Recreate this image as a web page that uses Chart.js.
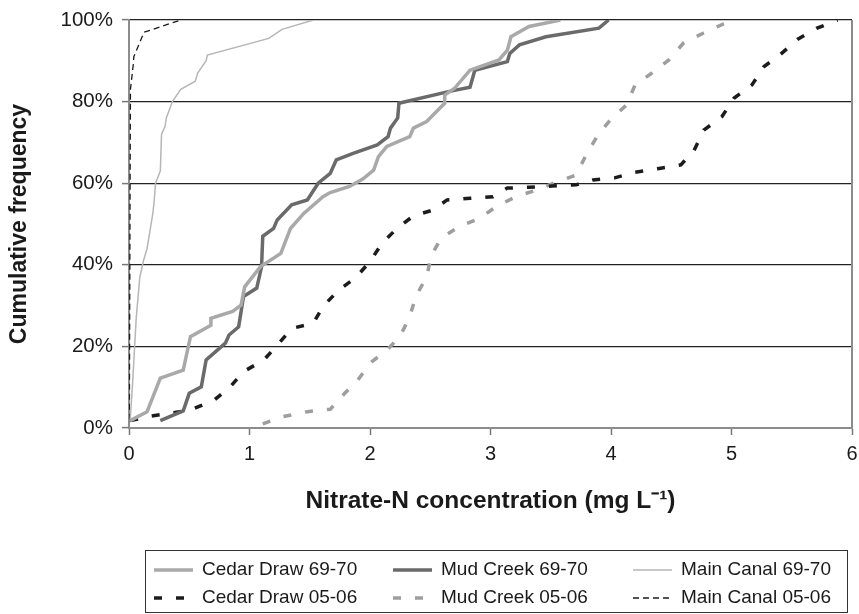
<!DOCTYPE html>
<html>
<head>
<meta charset="utf-8">
<script src="https://cdn.jsdelivr.net/npm/chart.js@4.4.1/dist/chart.umd.min.js"></script>
<style>
  html, body { margin: 0; padding: 0; background: #fff; }
  #wrap { width: 859px; height: 614px; }
</style>
</head>
<body>
<div id="wrap"><canvas id="grafico"></canvas></div>
<script>
// [nitrate mg/L, cumulative %]
const cedarDraw6970 = [[0.01,1.8],[0.15,4],[0.26,12.2],[0.45,14.2],[0.51,22.4],[0.68,25.2],[0.68,26.9],[0.86,28.6],[0.93,30.1],[0.96,34.6],[1.09,39.5],[1.26,42.8],[1.34,48.9],[1.45,52.6],[1.61,56.7],[1.67,57.7],[1.83,59.2],[1.94,61],[2.03,63.2],[2.07,66.5],[2.14,69],[2.33,71.4],[2.36,73.5],[2.47,75.1],[2.62,79.6],[2.62,81.6],[2.70,83.2],[2.83,87.7],[3.07,90.2],[3.14,92.6],[3.17,95.9],[3.32,98.4],[3.58,100]];
const mudCreek6970 = [[0.26,1.8],[0.45,4.2],[0.50,8.5],[0.60,10.1],[0.64,16.7],[0.80,20.8],[0.83,22.8],[0.91,24.8],[0.95,32.2],[1.06,34.3],[1.10,39.5],[1.11,47],[1.20,48.9],[1.23,51],[1.35,54.7],[1.48,55.9],[1.57,60],[1.67,62.4],[1.72,65.7],[1.86,67.3],[2.06,69.4],[2.15,71.4],[2.17,73.5],[2.23,76],[2.24,79.6],[2.66,82.5],[2.83,83.5],[2.87,87.7],[3.14,89.8],[3.16,91.8],[3.24,93.9],[3.46,95.9],[3.90,98],[3.98,100]];
const mainCanal6970 = [[0.01,2],[0.03,11],[0.06,27],[0.09,37],[0.12,41],[0.15,44],[0.20,53],[0.21,56],[0.22,60],[0.26,63],[0.27,72],[0.30,74],[0.31,76],[0.36,80],[0.43,83],[0.55,85],[0.57,87],[0.64,90],[0.65,91.4],[1.16,95.5],[1.27,97.7],[1.53,100]];
const cedarDraw0506 = [[0.01,1.8],[0.18,2.9],[0.51,4.4],[0.71,6.9],[0.84,10.1],[0.95,13.8],[1.12,16.7],[1.23,20.3],[1.35,24.4],[1.53,25.7],[1.61,29.8],[1.74,33.8],[1.88,36.8],[2.0,40.8],[2.10,45.3],[2.22,48.8],[2.36,52],[2.52,53.4],[2.64,55.9],[2.83,56.3],[3.02,56.7],[3.14,58.8],[3.32,59.0],[3.51,59.3],[3.71,59.6],[3.85,60.8],[4.03,61.3],[4.20,62.7],[4.40,63.6],[4.58,64.5],[4.69,68.1],[4.77,73],[4.92,76.3],[5.02,80.8],[5.17,84.1],[5.27,88.6],[5.40,91.4],[5.55,95.3],[5.71,98],[5.88,100]];
const mudCreek0506 = [[1.11,1],[1.28,2.8],[1.48,4],[1.67,4.6],[1.79,8.5],[1.90,11.8],[2.0,15.9],[2.14,19.1],[2.25,22.5],[2.33,27.3],[2.38,32.2],[2.47,37.1],[2.51,42.4],[2.59,46.5],[2.74,49.4],[2.91,51.4],[3.05,54.3],[3.21,56.7],[3.38,58.3],[3.56,60.4],[3.71,62],[3.80,67.3],[3.90,72.2],[4.0,75.7],[4.13,79.2],[4.20,84.1],[4.34,87],[4.48,90.2],[4.60,94.3],[4.76,96.7],[4.93,99],[5.02,100]];
const mainCanal0506 = [[0.003,2],[0.008,50],[0.012,83],[0.035,89],[0.04,91],[0.125,97],[0.43,100]];

const nomes = ['Cedar Draw 69-70', 'Mud Creek 69-70', 'Main Canal 69-70', 'Cedar Draw 05-06', 'Mud Creek 05-06', 'Main Canal 05-06'];
const yTicks = [0, 20, 40, 60, 80, 100];
const xTicks = [0, 1, 2, 3, 4, 5, 6];

const FONTE = "'Liberation Sans', Arial, sans-serif";

function serie(label, pts, cor, largura, dash) {
  return {
    label,
    data: pts.map(p => ({ x: p[0], y: p[1] })),
    borderColor: cor,
    borderWidth: largura,
    borderDash: dash,
    pointRadius: 0,
    tension: 0,
    fill: false
  };
}

const datasets = [
  serie(nomes[0], cedarDraw6970, '#a9a9a9', 3.5, []),
  serie(nomes[1], mudCreek6970, '#6a6a6a', 3.5, []),
  serie(nomes[2], mainCanal6970, '#b6b6b6', 1.5, []),
  serie(nomes[3], cedarDraw0506, '#1c1c1c', 3.5, [8, 14]),
  serie(nomes[4], mudCreek0506, '#9e9e9e', 3.5, [8, 14]),
  serie(nomes[5], mainCanal0506, '#1a1a1a', 1.3, [6, 4])
];

// legenda com caixa, 3 colunas x 2 linhas
const legendaCaixa = {
  id: 'legendaCaixa',
  afterDraw(chart) {
    const ctx = chart.ctx;
    const area = chart.chartArea;
    ctx.save();
    // borda direita do grafico
    ctx.strokeStyle = '#8c8c8c';
    ctx.lineWidth = 2;
    ctx.beginPath();
    ctx.moveTo(area.right, area.top);
    ctx.lineTo(area.right, area.bottom);
    ctx.stroke();

    ctx.strokeStyle = '#333';
    ctx.lineWidth = 1;
    ctx.strokeRect(145.5, 550.5, 702, 62);

    const colX = [154, 393, 633];
    const linY = [570, 598];
    ctx.font = '19px ' + FONTE;
    ctx.textBaseline = 'middle';
    ctx.fillStyle = '#1a1a1a';
    chart.data.datasets.forEach((d, i) => {
      const x = colX[i % 3];
      const y = linY[Math.floor(i / 3)];
      ctx.strokeStyle = d.borderColor;
      ctx.lineWidth = d.borderWidth;
      ctx.setLineDash(d.borderDash);
      ctx.beginPath();
      ctx.moveTo(x, y);
      ctx.lineTo(x + 39, y);
      ctx.stroke();
      ctx.setLineDash([]);
      ctx.fillText(d.label, x + 48, y);
    });
    ctx.restore();
  }
};

new Chart(document.getElementById('grafico'), {
  type: 'line',
  data: { datasets },
  options: {
    responsive: true,
    maintainAspectRatio: false,
    animation: false,
    layout: { padding: { left: 0, top: 20, right: 7, bottom: 96 } },
    plugins: {
      legend: { display: false },
      tooltip: { enabled: false }
    },
    scales: {
      x: {
        type: 'linear',
        min: 0,
        max: 6,
        afterFit: s => { s.height = 90; s.paddingLeft = 0; s.paddingRight = 0; },
        afterBuildTicks: s => { s.ticks = xTicks.map(v => ({ value: v })); },
        border: { color: '#8c8c8c', width: 2 },
        grid: { drawOnChartArea: false, drawTicks: true, tickLength: 7, tickColor: '#777', tickWidth: 1.5 },
        ticks: { color: '#1a1a1a', font: { family: FONTE, size: 20 }, padding: 7, maxRotation: 0 },
        title: {
          display: true,
          text: 'Nitrate-N concentration (mg L\u207B\u00B9)',
          color: '#1a1a1a',
          font: { family: FONTE, size: 24.5, weight: 'bold' },
          padding: { top: 0, bottom: 2 }
        }
      },
      y: {
        min: 0,
        max: 100,
        afterFit: s => { s.width = 129; s.paddingTop = 0; s.paddingBottom = 0; },
        afterBuildTicks: s => { s.ticks = yTicks.map(v => ({ value: v })); },
        border: { color: '#8c8c8c', width: 2 },
        grid: {
          color: c => (c.tick && c.tick.value === 0) ? 'rgba(0,0,0,0)' : '#222',
          lineWidth: 1.2,
          tickLength: 7,
          tickColor: '#777',
          tickWidth: 1.5
        },
        ticks: {
          color: '#1a1a1a',
          font: { family: FONTE, size: 20.5 },
          padding: 9,
          callback: v => v + '%'
        },
        title: {
          display: true,
          text: 'Cumulative frequency',
          color: '#1a1a1a',
          font: { family: FONTE, size: 23, weight: 'bold' },
          padding: { top: 6, bottom: 0 }
        }
      }
    }
  },
  plugins: [legendaCaixa]
});
</script>
</body>
</html>
